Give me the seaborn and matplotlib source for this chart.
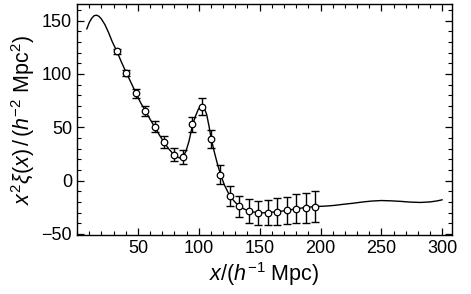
import numpy as np
import pandas as pd
import seaborn as sns
import matplotlib
matplotlib.use("Agg")
import matplotlib.pyplot as plt
from matplotlib.ticker import MultipleLocator

# measured correlation function (points with errors)
x_data = [32.8, 40.5, 48.4, 56.1, 63.7, 71.4, 79.4, 87.1, 94.7, 102.4, 110.1,
          117.8, 125.7, 133.4, 141.0, 149.0, 156.7, 164.6, 172.3, 180.0, 187.7, 195.6]
y_data = [121.1, 101.0, 81.7, 65.2, 50.6, 35.9, 24.3, 22.5, 52.7, 69.3, 39.0,
          5.5, -14.4, -24.0, -28.7, -30.0, -30.0, -29.0, -28.0, -26.5, -25.3, -24.3]
y_err = [2.0, 3.0, 4.0, 4.7, 5.0, 5.5, 6.0, 6.5, 7.0, 7.8, 8.0,
         8.7, 9.4, 10.0, 11.0, 11.2, 11.5, 12.3, 13.0, 13.7, 14.0, 14.5]

# model curve
x_model = [8, 10, 12, 14, 16, 18, 20, 23, 26, 29, 32.8, 36.5, 40.5, 44.5, 48.4,
           52, 56.1, 60, 63.7, 67.5, 71.4, 75.5, 79.4, 82, 84.5, 87.1, 89.5, 92,
           94.7, 97, 99.5, 102, 104, 106.5, 108.5, 110.1, 112.5, 115, 117.8, 121,
           124, 126, 130, 133.4, 137, 141, 145, 149, 153, 157, 161, 165, 169,
           172.3, 176, 180, 184, 188, 192, 196, 203, 211, 219, 227, 235, 242,
           250, 258, 266, 274, 282, 290, 296, 300]
y_model = [142, 148, 152, 154.5, 155, 154, 151.5, 146, 138.5, 130, 121, 111, 101,
           91.5, 82, 73.5, 65.5, 57.5, 50.5, 43, 36, 29.5, 24.5, 22, 21.2, 22.5,
           27.5, 37, 51, 59.5, 66.5, 70.5, 69.5, 62, 50.5, 40, 28, 17, 6, -4,
           -11, -15, -20.5, -24, -26.5, -28.5, -29.5, -30, -30.2, -30, -29.5,
           -29, -28.5, -28, -27.2, -26.5, -25.8, -25.2, -24.7, -24.3, -24, -23.3,
           -22.2, -21.2, -20, -19.2, -18.7, -19, -19.5, -20.2, -20.5, -20, -19, -18]

sns.set_style("ticks")
plt.rcParams['font.family'] = ['Liberation Sans', 'DejaVu Sans']
plt.rcParams['mathtext.fontset'] = 'custom'
plt.rcParams['mathtext.rm'] = 'Liberation Sans'
plt.rcParams['mathtext.it'] = 'Liberation Sans:italic'
plt.rcParams['text.color'] = 'black'
plt.rcParams['axes.labelcolor'] = 'black'
plt.rcParams['xtick.color'] = 'black'
plt.rcParams['ytick.color'] = 'black'

model = pd.DataFrame({'x': x_model, 'y': y_model})
data = pd.DataFrame({'x': x_data, 'y': y_data, 'err': y_err})

fig = plt.figure(figsize=(4.71, 2.94), dpi=100)
ax = fig.add_axes([0.1635, 0.2007, 0.7962, 0.7857])

sns.lineplot(data=model, x='x', y='y', color='black', lw=1.0, ax=ax)
ax.errorbar(data['x'], data['y'], yerr=data['err'], fmt='none',
            ecolor='black', elinewidth=1.0, capsize=3, capthick=1.0, zorder=3)
sns.scatterplot(data=data, x='x', y='y', marker='o', s=22, facecolor='white',
                edgecolor='black', linewidth=0.9, ax=ax, zorder=4)

ax.set_xlim(0, 308)
ax.set_ylim(-51, 165.5)
ax.xaxis.set_major_locator(MultipleLocator(50))
ax.xaxis.set_minor_locator(MultipleLocator(10))
ax.yaxis.set_major_locator(MultipleLocator(50))
ax.yaxis.set_minor_locator(MultipleLocator(10))
ax.set_xticks([50, 100, 150, 200, 250, 300])
ax.tick_params(which='both', direction='in', top=True, right=True,
               labelsize=13, color='black', labelcolor='black')
ax.tick_params(which='major', length=5, width=0.9)
ax.tick_params(which='minor', length=3, width=0.8)
for s in ax.spines.values():
    s.set_linewidth(1.0)
    s.set_color('black')

ax.set_xlabel(r'$x/(h^{-1}\ \mathrm{Mpc})$', fontsize=15.5, labelpad=2, color='black')
ax.set_ylabel(r'$x^2\xi(x)\,/\,(h^{-2}\ \mathrm{Mpc}^2)$', fontsize=15.5, labelpad=3,
              color='black')

fig.savefig('out.png', dpi=100)
